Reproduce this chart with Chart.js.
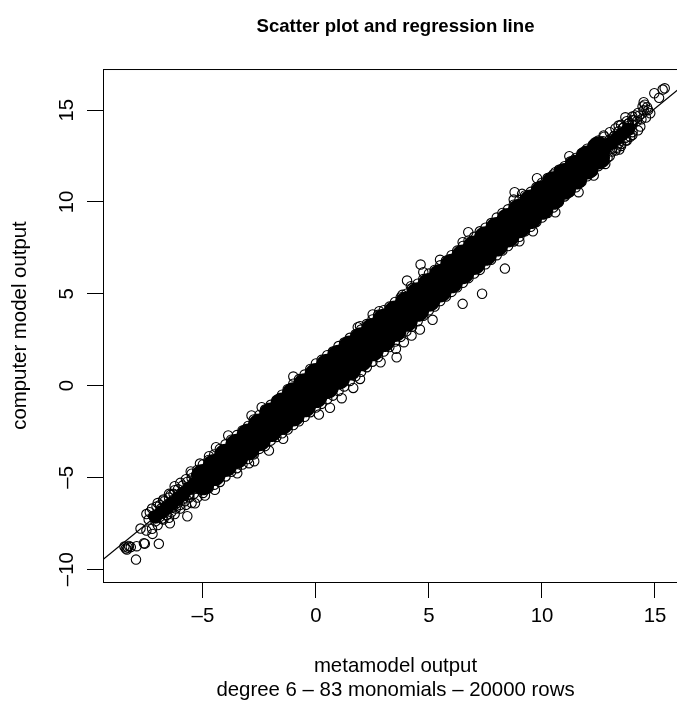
<!DOCTYPE html>
<html>
<head>
<meta charset="utf-8">
<style>
  html, body { margin: 0; padding: 0; background: #fff; overflow: hidden; }
  canvas { display: block; }
</style>
<script src="https://cdn.jsdelivr.net/npm/chart.js@4"></script>
</head>
<body>
<!-- the plot runs past the right edge of the window, the reference is cropped there too -->
<canvas id="scatter" width="690" height="702"></canvas>
<script>
// axis ticks
const xTicks = [-5, 0, 5, 10, 15];
const yTicks = [-10, -5, 0, 5, 10, 15];

// regression line end points
const lineX = [-9.42, 16.46];
const lineY = [-9.48, 16.56];

// solid part of the band, read as three rows (the original is 20000 overplotted circles)
const coreX = [-5, -4.5, -4, -3.5, -3, -2.5, -2, -1.5, -1, -0.5, 0, 0.5, 1, 1.5, 2, 2.5, 3, 3.5, 4, 4.5, 5, 5.5, 6, 6.5, 7, 7.5, 8, 8.5, 9, 9.5, 10, 10.5, 11, 11.5, 12, 12.5];
const coreHi = [-4.9, -4.35, -3.8, -3.25, -2.7, -2.15, -1.55, -1.0, -0.45, 0.05, 0.6, 1.1, 1.6, 2.1, 2.55, 3.05, 3.55, 4.0, 4.5, 5.0, 5.5, 6.0, 6.55, 7.05, 7.55, 8.05, 8.55, 9.05, 9.55, 10.05, 10.55, 11.05, 11.5, 11.95, 12.45, 12.95];
const coreMid = [-5.15, -4.6, -4.1, -3.6, -3.1, -2.55, -2.05, -1.55, -1.05, -0.55, 0, 0.5, 1.0, 1.5, 2.0, 2.5, 3.0, 3.5, 4.0, 4.55, 5.1, 5.6, 6.1, 6.6, 7.1, 7.6, 8.1, 8.6, 9.1, 9.6, 10.1, 10.6, 11.15, 11.65, 12.15, 12.7];
const coreLo = [-5.35, -4.85, -4.35, -3.9, -3.45, -2.95, -2.45, -2.05, -1.6, -1.1, -0.6, -0.1, 0.4, 0.9, 1.4, 1.95, 2.45, 3.0, 3.55, 4.1, 4.65, 5.15, 5.65, 6.15, 6.65, 7.15, 7.65, 8.15, 8.65, 9.15, 9.65, 10.2, 10.75, 11.3, 11.85, 12.4];

// narrower dark strip where the band thins out at both ends
const thinX = [-7.1, -6.85, -6.6, -6.35, -6.1, -5.85, -5.6, -5.35, 12.8, 13.05, 13.3, 13.55, 13.8];
const thinY = [-7.15, -6.9, -6.65, -6.4, -6.15, -5.9, -5.6, -5.35, 12.95, 13.2, 13.45, 13.7, 13.95];

// circles along the upper and lower edge of the band
const edgeX = [-7.5, -7.25, -7, -6.75, -6.5, -6.25, -6, -5.75, -5.5, -5.25, -5, -4.75, -4.5, -4.25, -4, -3.75, -3.5, -3.25, -3, -2.75, -2.5, -2.25, -2, -1.75, -1.5, -1.25, -1, -0.75, -0.5, -0.25, 0, 0.25, 0.5, 0.75, 1, 1.25, 1.5, 1.75, 2, 2.25, 2.5, 2.75, 3, 3.25, 3.5, 3.75, 4, 4.25, 4.5, 4.75, 5, 5.25, 5.5, 5.75, 6, 6.25, 6.5, 6.75, 7, 7.25, 7.5, 7.75, 8, 8.25, 8.5, 8.75, 9, 9.25, 9.5, 9.75, 10, 10.25, 10.5, 10.75, 11, 11.25, 11.5, 11.75, 12, 12.25, 12.5, 12.75, 13, 13.25, 13.5, 13.75, 14, 14.25];
const edgeHi = [-7.0, -6.7, -6.4, -6.2, -5.9, -5.7, -5.3, -5.1, -4.8, -4.6, -4.3, -4.05, -3.75, -3.45, -3.2, -2.95, -2.7, -2.45, -2.2, -1.85, -1.6, -1.3, -1.05, -0.8, -0.5, -0.2, 0.1, 0.35, 0.6, 0.9, 1.2, 1.4, 1.65, 1.85, 2.15, 2.35, 2.6, 2.8, 3.05, 3.35, 3.6, 3.85, 4.1, 4.3, 4.55, 4.8, 5.0, 5.3, 5.55, 5.8, 6.1, 6.3, 6.55, 6.8, 7.1, 7.35, 7.6, 7.9, 8.1, 8.4, 8.6, 8.85, 9.15, 9.4, 9.6, 9.85, 10.1, 10.35, 10.55, 10.8, 11.05, 11.3, 11.5, 11.75, 11.95, 12.2, 12.4, 12.65, 12.9, 13.1, 13.35, 13.55, 13.8, 14.0, 14.2, 14.4, 14.65, 14.85];
const edgeLo = [-7.9, -7.8, -7.6, -7.3, -7.2, -7.0, -6.7, -6.5, -6.4, -6.1, -5.85, -5.6, -5.4, -5.25, -4.95, -4.7, -4.5, -4.3, -4.0, -3.75, -3.45, -3.3, -3.0, -2.8, -2.6, -2.4, -2.15, -1.95, -1.7, -1.45, -1.2, -1.0, -0.75, -0.55, -0.3, -0.05, 0.25, 0.5, 0.75, 1.0, 1.3, 1.55, 1.85, 2.1, 2.4, 2.65, 2.95, 3.2, 3.5, 3.8, 4.1, 4.3, 4.6, 4.85, 5.1, 5.35, 5.6, 5.85, 6.1, 6.3, 6.6, 6.85, 7.1, 7.35, 7.6, 7.85, 8.1, 8.4, 8.65, 8.9, 9.15, 9.4, 9.7, 10.0, 10.3, 10.55, 10.8, 11.1, 11.4, 11.65, 11.95, 12.2, 12.5, 12.8, 13.05, 13.35, 13.65, 13.9];

// circles inside the thin ends of the band
const innerX = [-7.4, -7.2, -7.1, -7.0, -6.9, -6.85, -6.7, -6.6, -6.55, -6.4, -6.35, -6.3, -6.15, -6.0, -5.9, -5.75, -5.6, -5.45, -5.3, -5.2, -6.9, -6.7, -6.5, -6.3, -6.1, -5.9, -5.7, -5.5, -5.3, -6.8, -6.6, -6.4, -6.2, -6.0, -5.8, -5.6, -5.4,
  12.6, 12.7, 12.8, 12.9, 13.0, 13.1, 13.2, 13.3, 13.4, 13.6, 13.6, 13.7, 13.85, 13.9, 14.0, 14.1, 14.2, 14.3, 14.4, 14.45, 14.5, 14.55, 14.6, 14.7, 13.0, 13.2, 13.4, 13.6, 13.8, 14.0, 13.1, 13.3, 13.5, 13.7, 13.9];
const innerY = [-7.3, -7.1, -7.4, -7.0, -7.15, -6.7, -6.9, -6.75, -6.45, -6.6, -6.65, -6.2, -6.4, -5.9, -6.2, -5.65, -5.95, -5.3, -5.6, -5.05, -6.5, -6.3, -6.1, -5.9, -5.65, -5.45, -5.25, -5.05, -4.85, -7.25, -7.05, -6.9, -6.7, -6.5, -6.3, -6.1, -5.9,
  12.6, 13.3, 12.9, 12.4, 13.1, 12.9, 13.6, 13.4, 13.2, 13.7, 14.05, 13.5, 14.3, 14.0, 14.2, 14.45, 14.4, 14.7, 14.5, 15.2, 15.0, 15.3, 14.6, 15.0, 13.4, 13.6, 13.85, 14.05, 14.25, 14.45, 12.75, 12.95, 13.15, 13.35, 13.55];

// stray circles off the band
const strayX = [-7.96, -6.95, -7.57, -7.61, -8.47, -8.32, -8.36, -8.27, -8.41, -8.19, -7.93, -5.69, -6.25, -6.43, -7.35, -7.05, -7.76, -7.23, -6.46, -6.76, -5.13, -5.54, -4.42, -4.73, -3.88, -2.85, -2.40, -3.48, -2.96, -2.73, -2.08, -1.45, -4.47, -4.91, -5.35,
  4.63, 5.49, 4.75, 4.03, 4.20, 3.82, 2.51, 2.80, 1.85, 1.95, 6.49, 3.57, 3.54, 5.16, 4.60, 4.23, 3.89, 2.86, 1.95, 1.65, 1.14, 0.62, 0.13, -1.0, 6.49, 6.74, 7.35, 8.36,
  15.43, 15.34, 14.97, 15.18, 14.50, 14.65, 14.79, 14.35, 13.69, 14.13, 11.21, 9.78, 8.79, 9.12, 8.75, 10.59, 11.62, 12.29, 10.59, 9.60, 9.0, 13.42, 12.80, 14.01, 12.43, 12.73, 13.39, 11.81, 10.96];
const strayY = [-9.48, -8.62, -8.61, -8.59, -8.77, -8.82, -8.93, -8.74, -8.88, -8.80, -8.75, -7.12, -5.48, -5.95, -6.90, -6.59, -7.79, -8.08, -7.50, -6.26, -4.25, -4.68, -3.36, -3.85, -2.72, -1.63, -1.18, -4.78, -4.23, -4.12, -3.54, -2.90, -5.68, -5.99, -6.41,
  6.59, 6.85, 6.17, 5.72, 5.41, 4.94, 3.87, 4.05, 3.18, 3.23, 4.45, 1.54, 2.0, 3.58, 3.05, 2.72, 2.36, 1.27, 0.36, -0.13, -0.69, -1.21, -1.58, 0.49, 7.81, 8.35, 5.0, 6.37,
  16.19, 16.12, 15.92, 15.67, 15.43, 15.16, 14.83, 14.11, 14.61, 14.71, 12.49, 11.29, 10.53, 10.44, 10.13, 11.62, 10.53, 11.44, 9.44, 8.40, 7.86, 12.85, 12.07, 13.80, 13.16, 13.62, 14.16, 12.62, 11.80];

const FONT = '"Liberation Sans", Arial, sans-serif';

function zip(xs, ys) {
    return xs.map((x, i) => ({ x: x, y: ys[i] }));
}

function ringSet(points) {
    return {
        type: 'scatter',
        data: points,
        pointStyle: 'circle',
        pointRadius: 4.7,
        pointBorderWidth: 1.1,
        pointBorderColor: '#000',
        pointBackgroundColor: 'transparent',
        order: 2
    };
}

function discSet(points, radius) {
    return {
        type: 'scatter',
        data: points,
        pointRadius: radius,
        pointBorderWidth: 0,
        pointBackgroundColor: '#000',
        order: 3
    };
}

// box around the plot region
const boxPlugin = {
    id: 'box',
    afterDraw(chart) {
        const a = chart.chartArea;
        const ctx = chart.ctx;
        ctx.save();
        ctx.strokeStyle = '#000';
        ctx.lineWidth = 1;
        ctx.strokeRect(a.left + 0.5, a.top + 0.5, a.right - a.left, a.bottom - a.top);
        ctx.restore();
    }
};

new Chart(document.getElementById('scatter').getContext('2d'), {
    data: {
        datasets: [
            {
                type: 'line',
                data: zip(lineX, lineY),
                borderColor: '#000',
                borderWidth: 1.2,
                pointRadius: 0,
                order: 1
            },
            ringSet(zip(edgeX, edgeHi)),
            ringSet(zip(edgeX, edgeLo)),
            ringSet(zip(innerX, innerY)),
            ringSet(zip(strayX, strayY)),
            discSet(zip(coreX, coreHi), 11.5),
            discSet(zip(coreX, coreMid), 11.5),
            discSet(zip(coreX, coreLo), 11.5),
            discSet(zip(thinX, thinY), 7)
        ]
    },
    options: {
        responsive: false,
        animation: false,
        layout: { padding: { right: 2 }, autoPadding: false },
        plugins: {
            legend: { display: false },
            tooltip: { enabled: false },
            title: {
                display: true,
                text: 'Scatter plot and regression line',
                fullSize: false,
                color: '#000',
                font: { family: FONT, size: 18.6, weight: 'bold', lineHeight: 1.2 },
                padding: { top: 16, bottom: 30.7 }
            }
        },
        scales: {
            x: {
                type: 'linear',
                min: -9.42,
                max: 16.46,
                grid: { drawOnChartArea: false, drawTicks: true, tickLength: 16, color: '#000', tickColor: '#000' },
                border: { display: false },
                afterFit(scale) {
                    scale.height = 120;
                    scale.paddingLeft = 0;
                    scale.paddingRight = 0;
                },
                afterBuildTicks(scale) { scale.ticks = xTicks.map(v => ({ value: v })); },
                ticks: {
                    color: '#000',
                    padding: 6,
                    maxRotation: 0,
                    font: { family: FONT, size: 20.4 },
                    callback: v => String(v).replace('-', '\u2013')
                },
                title: {
                    display: true,
                    text: ['metamodel output', 'degree 6 \u2013 83 monomials \u2013 20000 rows'],
                    color: '#000',
                    font: { family: FONT, size: 20.4, lineHeight: 1.18 },
                    padding: { top: 0, bottom: 0 }
                }
            },
            y: {
                type: 'linear',
                min: -10.7,
                max: 17.24,
                grid: { drawOnChartArea: false, drawTicks: true, tickLength: 16, color: '#000', tickColor: '#000' },
                border: { display: false },
                afterFit(scale) {
                    scale.width = 103;
                    scale.paddingTop = 0;
                    scale.paddingBottom = 0;
                },
                afterBuildTicks(scale) { scale.ticks = yTicks.map(v => ({ value: v })); },
                ticks: {
                    color: '#000',
                    padding: 3,
                    minRotation: 90,
                    maxRotation: 90,
                    crossAlign: 'center',
                    font: { family: FONT, size: 20.4 },
                    callback: v => String(v).replace('-', '\u2013')
                },
                title: {
                    display: true,
                    text: 'computer model output',
                    color: '#000',
                    font: { family: FONT, size: 20.4, lineHeight: 1.18 },
                    padding: { top: 8, bottom: 0 }
                }
            }
        }
    },
    plugins: [boxPlugin]
});
</script>
</body>
</html>
